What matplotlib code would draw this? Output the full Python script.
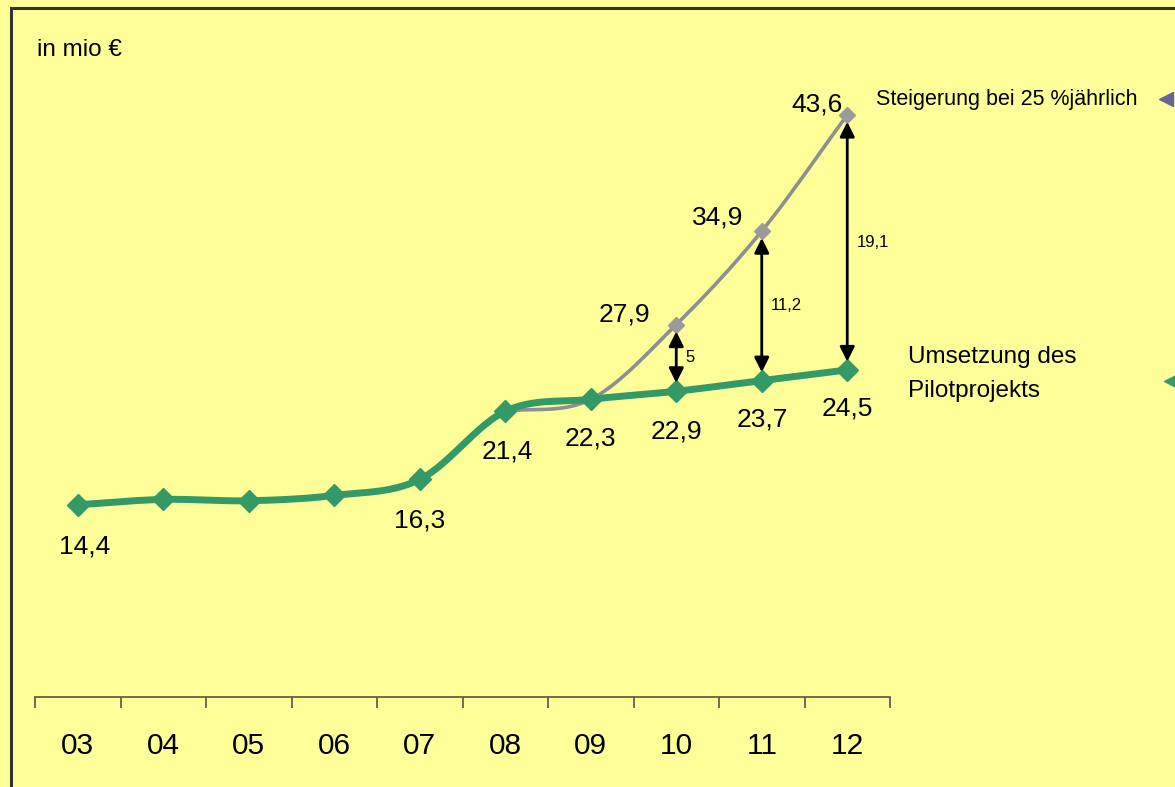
import numpy as np
import matplotlib
matplotlib.use("Agg")
import matplotlib.pyplot as plt
from matplotlib.patches import Rectangle

plt.rcParams['font.family'] = ['Liberation Sans', 'DejaVu Sans']

# ---- data ----
years = ["03", "04", "05", "06", "07", "08", "09", "10", "11", "12"]
pilot = [14.4, 14.8, 14.7, 15.1, 16.3, 21.4, 22.3, 22.9, 23.7, 24.5]
growth_years = ["08", "09", "10", "11", "12"]
growth = [21.4, 22.3, 27.9, 34.9, 43.6]
pilot_labeled = ["03", "07", "08", "09", "10", "11", "12"]
growth_labeled = ["10", "11", "12"]
gap_years = ["10", "11", "12"]
gap_labels = ["5", "11,2", "19,1"]

label_growth = "Steigerung bei 25 %jährlich"
label_pilot = "Umsetzung des\nPilotprojekts"
unit_label = "in mio €"

BG = "#FFFF99"
GREEN = "#339966"
GRAY = "#8F8F8F"
GRAY_M = "#9A9A9A"
SLATE = "#666699"


def fmt(v):
    return f"{v:.1f}".replace(".", ",")


def smooth(xs, ys, n=30):
    """Catmull-Rom rendering of a line through the given points (Excel-like smoothing)."""
    xs = np.asarray(xs, float)
    ys = np.asarray(ys, float)
    px = np.concatenate([[2 * xs[0] - xs[1]], xs, [2 * xs[-1] - xs[-2]]])
    py = np.concatenate([[2 * ys[0] - ys[1]], ys, [2 * ys[-1] - ys[-2]]])
    ox, oy = [], []
    t = np.linspace(0, 1, n)
    for i in range(1, len(px) - 2):
        for P, out in ((px, ox), (py, oy)):
            p0, p1, p2, p3 = P[i - 1], P[i], P[i + 1], P[i + 2]
            seg = 0.5 * ((2 * p1) + (-p0 + p2) * t + (2 * p0 - 5 * p1 + 4 * p2 - p3) * t ** 2
                         + (-p0 + 3 * p1 - 3 * p2 + p3) * t ** 3)
            out.extend(seg if i == 1 else seg[1:])
    return np.array(ox), np.array(oy)


W, H = 1175, 787
fig = plt.figure(figsize=(W / 100, H / 100), dpi=100, facecolor=BG)

# outer frame (extends beyond right and bottom edges)
fig.patches.append(Rectangle((11 / W, -0.05), 1.2, 1 - 8 / H + 0.05, transform=fig.transFigure,
                             fill=False, edgecolor="#333333", linewidth=2.2, zorder=0))

ax = fig.add_axes([35 / W, (H - 697) / H, 855 / W, 667.5 / H])
ax.set_facecolor("none")

xi = {y: i for i, y in enumerate(years)}
x_p = [xi[y] for y in years]
x_g = [xi[y] for y in growth_years]

# growth line (under the green one)
sx, sy = smooth(x_g, growth)
ax.plot(sx, sy, color=GRAY, lw=2.6, solid_capstyle="round", zorder=2, clip_on=False)
ax.plot(x_g, growth, ls="none", marker="D", ms=8.5, color=GRAY_M, mec=GRAY_M, zorder=3, clip_on=False)

# pilot line
sx, sy = smooth(x_p, pilot)
ax.plot(sx, sy, color=GREEN, lw=5, solid_capstyle="round", zorder=4, clip_on=False)
ax.plot(x_p, pilot, ls="none", marker="D", ms=11.5, color=GREEN, mec=GREEN, zorder=5, clip_on=False)

# difference arrows
gval = dict(zip(growth_years, growth))
pval = dict(zip(years, pilot))
for y, lab in zip(gap_years, gap_labels):
    x = xi[y]
    ax.annotate("", xy=(x, gval[y]), xytext=(x, pval[y]),
                arrowprops=dict(arrowstyle="<|-|>", color="black", lw=2,
                                mutation_scale=22, shrinkA=6, shrinkB=5),
                zorder=6)
    ax.annotate(lab, xy=(x, (gval[y] + pval[y]) / 2), xytext=(6.5, 0), textcoords="offset points",
                ha="left", va="center", fontsize=12, zorder=7)

# data labels
p_off = {"03": (5, -30), "07": (0, -29.5), "08": (1.5, -29), "09": (0, -28), "10": (0, -29),
         "11": (0.5, -28), "12": (0, -28)}
for y in pilot_labeled:
    ax.annotate(fmt(pval[y]), xy=(xi[y], pval[y]), xytext=p_off[y], textcoords="offset points",
                ha="center", va="center", fontsize=19, zorder=7)
g_off = {"10": (-37, 7.5), "11": (-32, 10), "12": (-22, 7.5)}
for y in growth_labeled:
    ax.annotate(fmt(gval[y]), xy=(xi[y], gval[y]), xytext=g_off[y], textcoords="offset points",
                ha="center", va="center", fontsize=19, zorder=7)

# axes styling
ax.set_xlim(-0.5, len(years) - 0.5)
ax.set_ylim(0, 50)
for s in ("left", "right", "top"):
    ax.spines[s].set_visible(False)
ax.spines["bottom"].set_color("#555544")
ax.spines["bottom"].set_linewidth(1.2)
ax.set_yticks([])
ax.set_xticks(x_p)
ax.set_xticklabels(years, fontsize=21.5)
ax.tick_params(axis="x", which="major", length=0, pad=25)
ax.set_xticks(np.arange(-0.5, len(years), 1.0), minor=True)
ax.tick_params(axis="x", which="minor", length=8, width=1.2, color="#555544", direction="out")

# texts outside plot
fig.text(37 / W, 1 - 50 / H, unit_label, fontsize=17.5, ha="left", va="center")
fig.text(876 / W, 1 - 100 / H, label_growth, fontsize=15.5, ha="left", va="center")
fig.text(908 / W, 1 - 374 / H, label_pilot, fontsize=17.5, ha="left", va="center", linespacing=1.75)

# legend markers at right edge
fig.lines.append(plt.Line2D([1166 / W], [1 - 99 / H], transform=fig.transFigure, marker="<",
                            ms=10, color=SLATE, ls="none"))
fig.lines.append(plt.Line2D([1172 / W], [1 - 381 / H], transform=fig.transFigure, marker="<",
                            ms=11, color=GREEN, ls="none"))

fig.savefig("out.png", dpi=100, facecolor=BG)
